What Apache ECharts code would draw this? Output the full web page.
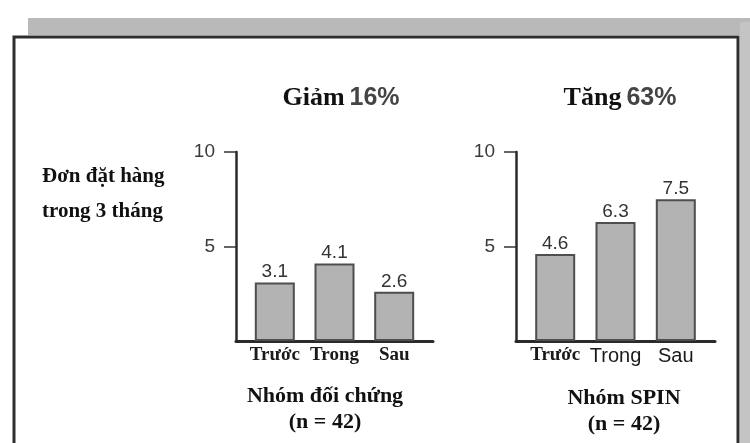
<!DOCTYPE html>
<html><head><meta charset="utf-8">
<script src="https://cdn.jsdelivr.net/npm/echarts@6/dist/echarts.min.js"></script>
<style>html,body{margin:0;padding:0;background:#fff;}#c{width:750px;height:443px;}</style>
</head><body><div id="c"></div>
<script>
const categories = ['Trước', 'Trong', 'Sau'];
const controlValues = [3.1, 4.1, 2.6];
const spinValues = [4.6, 6.3, 7.5];
const yTicks = [5, 10];
const titleControl = ['Giảm', '16%'];
const titleSpin = ['Tăng', '63%'];
const groupControl = ['Nhóm đối chứng', '(n = 42)'];
const groupSpin = ['Nhóm SPIN', '(n = 42)'];
const yName = ['Đơn đặt hàng', 'trong 3 tháng'];

const SERIF = '"Liberation Serif", "Times New Roman", serif';
const SANS = '"Liberation Sans", Arial, sans-serif';
const NARROW = '"Liberation Sans Narrow", "Liberation Sans", Arial, sans-serif';

const toPoints = vals => vals.map((v, i) => [i + 1, v]);

function xAxisCfg(gridIndex, sansIdx) {
  return {
    type: 'value', gridIndex, min: 0.35, max: 3.65,
    axisLine: { show: true, lineStyle: { color: '#2a2a2a', width: 3 } },
    axisTick: { show: false }, splitLine: { show: false },
    axisLabel: {
      customValues: [1, 2, 3], margin: 5,
      formatter: v => {
        const i = Math.round(v) - 1;
        return (sansIdx.indexOf(i) >= 0 ? '{s|' : '{b|') + categories[i] + '}';
      },
      rich: {
        b: { fontFamily: SERIF, fontWeight: 'bold', fontSize: 19, color: '#1a1a1a' },
        s: { fontFamily: SANS, fontSize: 20, color: '#1a1a1a' }
      }
    }
  };
}
function yAxisCfg(gridIndex) {
  return {
    type: 'value', gridIndex, min: 0, max: 10, interval: 5,
    axisLine: { show: true, lineStyle: { color: '#2a2a2a', width: 2.5 } },
    axisTick: { show: true, length: 12, customValues: yTicks, lineStyle: { color: '#333', width: 1.5 } },
    splitLine: { show: false },
    axisLabel: { customValues: yTicks, margin: 21, fontFamily: NARROW, fontSize: 19, color: '#3a3a3a' }
  };
}
function barSeries(idx, vals) {
  return {
    type: 'bar', xAxisIndex: idx, yAxisIndex: idx, barWidth: 40,
    data: toPoints(vals),
    itemStyle: { color: '#b3b3b3', borderColor: '#4e4e4e', borderWidth: 2 },
    label: {
      show: true, position: 'top', distance: 1,
      formatter: p => p.value[1].toFixed(1),
      fontFamily: SANS, fontSize: 19, color: '#333'
    }
  };
}
const titleRich = {
  a: { fontFamily: SERIF, fontWeight: 'bold', fontSize: 26, color: '#111' },
  b: { fontFamily: SANS, fontSize: 25, color: '#444' }
};
const groupStyle = { fontFamily: SERIF, fontWeight: 'bold', fontSize: 22, color: '#111', lineHeight: 26 };

const chart = echarts.init(document.getElementById('c'), null, { renderer: 'canvas' });
chart.setOption({
  backgroundColor: '#fff',
  animation: false,
  graphic: [
    { type: 'rect', z: 0, shape: { x: 28, y: 18, width: 722, height: 17 }, style: { fill: '#b9b9b9' } },
    { type: 'rect', z: 0, shape: { x: 740, y: 22, width: 10, height: 421 }, style: { fill: '#c4c4c4' } },
    { type: 'rect', z: 0, shape: { x: 14, y: 37, width: 724, height: 420 }, style: { fill: '#fff', stroke: '#2e2e2e', lineWidth: 3 } }
  ],
  title: [
    { text: '{a|' + titleControl[0] + '} {b|' + titleControl[1] + '}', left: 336, textAlign: 'center', top: 80, textStyle: { rich: titleRich } },
    { text: '{a|' + titleSpin[0] + '} {b|' + titleSpin[1] + '}', left: 615, textAlign: 'center', top: 80, textStyle: { rich: titleRich } },
    { text: yName.join('\n'), left: 37, top: 154, textStyle: { fontFamily: SERIF, fontWeight: 'bold', fontSize: 21, color: '#111', lineHeight: 35 } },
    { text: groupControl.join('\n'), left: 320, textAlign: 'center', top: 378, textStyle: groupStyle },
    { text: groupSpin.join('\n'), left: 619, textAlign: 'center', top: 380, textStyle: groupStyle }
  ],
  grid: [
    { left: 236, top: 152, width: 197, height: 189 },
    { left: 516, top: 152, width: 199, height: 189 }
  ],
  xAxis: [xAxisCfg(0, []), xAxisCfg(1, [1, 2])],
  yAxis: [yAxisCfg(0), yAxisCfg(1)],
  series: [barSeries(0, controlValues), barSeries(1, spinValues)]
});
</script></body></html>
